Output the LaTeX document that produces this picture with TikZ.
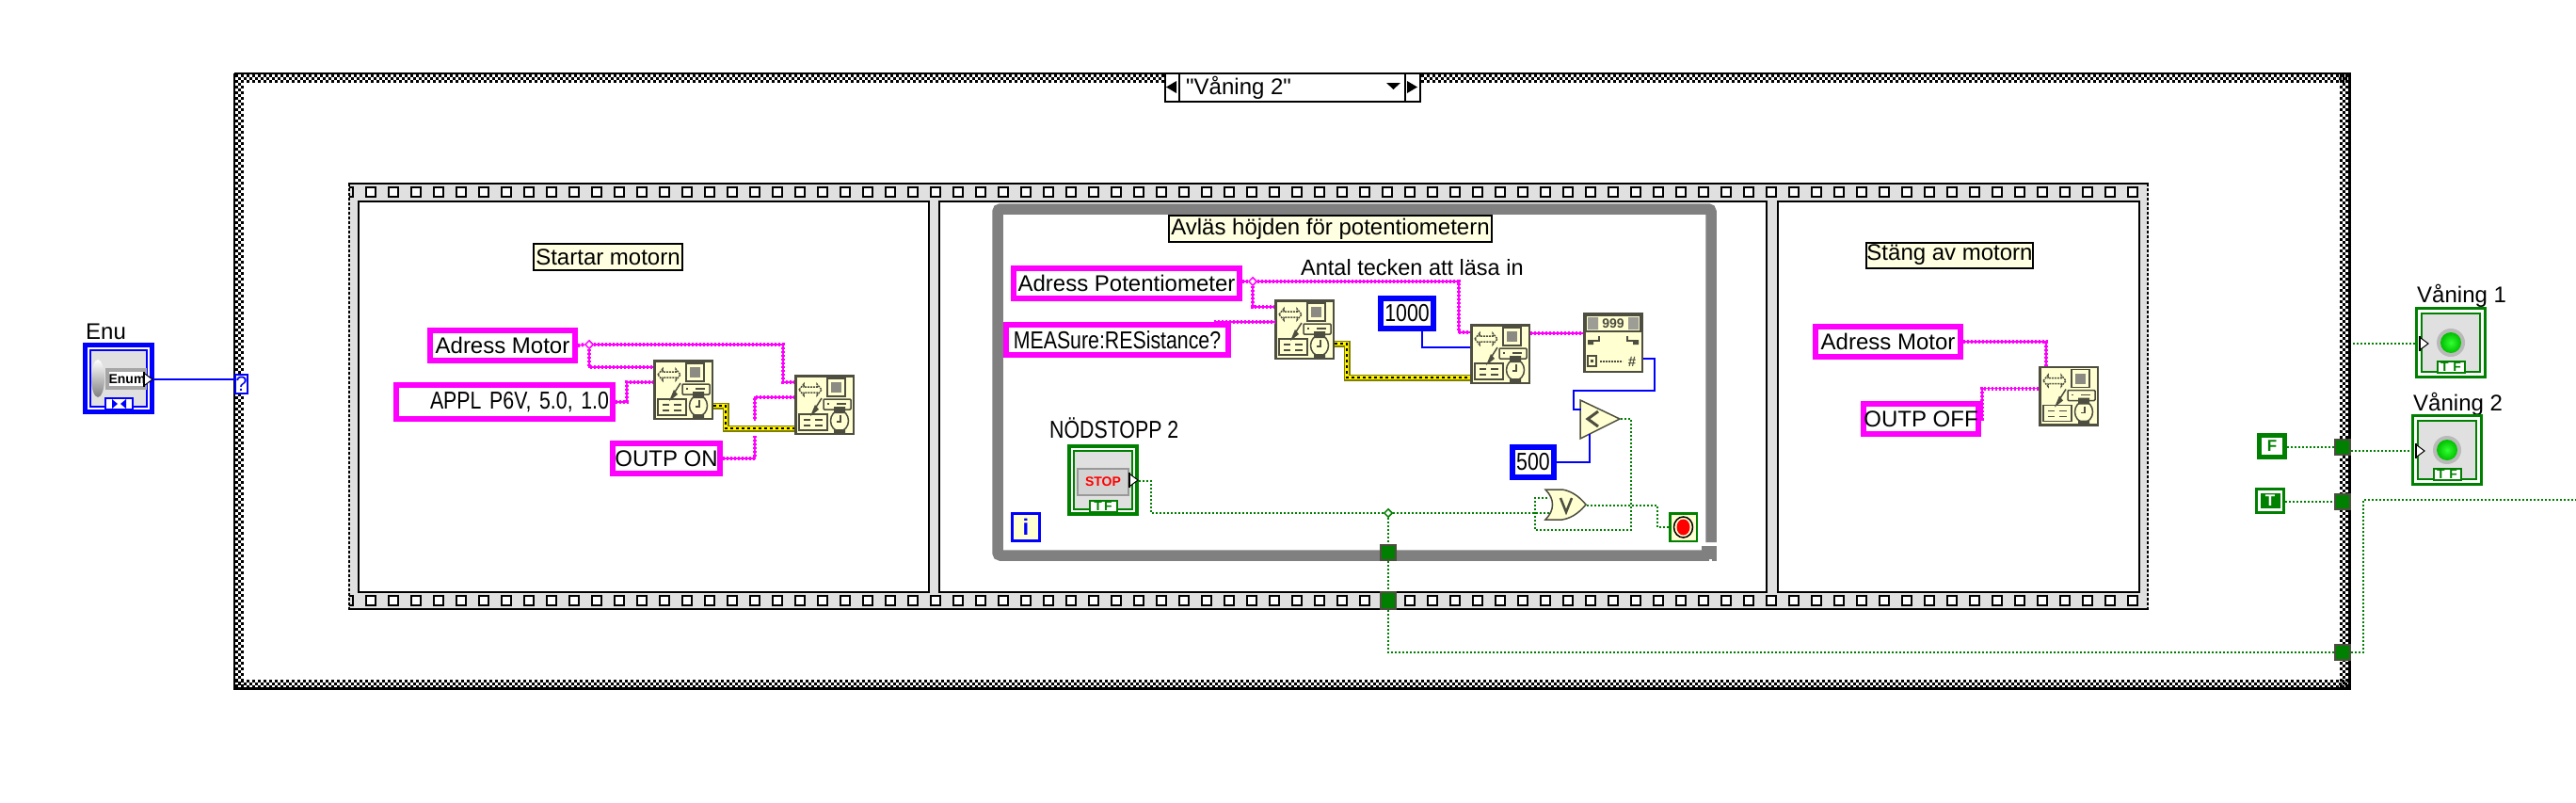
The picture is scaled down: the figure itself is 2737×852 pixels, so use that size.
\documentclass[tikz,border=0pt]{standalone}
\usepackage{fontspec}
\setmainfont{Liberation Sans}
\newfontfamily\labelfont{Liberation Sans}
\newfontfamily\capfont[FakeStretch=0.82]{Liberation Sans}
\usetikzlibrary{shapes.geometric}
\definecolor{lvpink}{HTML}{FF00FF}
\definecolor{lvblue}{HTML}{0000FF}
\definecolor{lvgreen}{HTML}{008000}
\definecolor{lvgray}{HTML}{808080}
\definecolor{lvband}{HTML}{E0E0E0}
\definecolor{lvpaper}{HTML}{FFFFD2}
\definecolor{lvnote}{HTML}{FFFFE1}
\definecolor{lvdark}{HTML}{4D4D40}
\definecolor{lvolive}{HTML}{808000}
\tikzset{
	lvlabel/.style={font=\labelfont\fontsize{24}{28}\selectfont,inner sep=0pt},
	lvcaps/.style={font=\capfont\fontsize{26}{28}\selectfont},
	strconst/.style={lvlabel,draw=lvpink,line width=6pt,fill=white},
	numconst/.style={lvlabel,lvcaps,draw=lvblue,line width=6pt,fill=white},
	noteleaf/.style={lvlabel,draw=black,line width=2pt,fill=lvnote},
	viblock/.style={draw=lvdark,line width=2.5pt,fill=lvpaper,minimum size=61.5pt,inner sep=0pt},
	tunnelbox/.style={draw=lvdark,line width=2pt,fill=lvgreen,minimum size=16pt,inner sep=0pt},
	strwire/.style={draw=lvpink,line width=4pt,dash pattern=on 2pt off 2pt,preaction={draw=lvpink,line width=1.5pt,solid}},
	errwire/.style={draw=lvolive,line width=7pt,postaction={draw=yellow,line width=4pt},postaction={draw=black,line width=2pt,dash pattern=on 3pt off 3pt}},
	numwire/.style={draw=lvblue,line width=2pt},
	boolwire/.style={draw=lvgreen,line width=2pt,dash pattern=on 2pt off 2pt},
	wirejoint/.style={diamond,draw=#1,line width=1.5pt,fill=white,minimum size=9pt,inner sep=0pt},
	tftab/.style={draw=lvgreen,line width=2pt,fill=white,minimum width=29pt,minimum height=12pt,inner sep=0pt,text=lvgreen,font=\labelfont\fontsize{14}{14}\selectfont\bfseries},
	boolframe/.style={draw=lvgreen,fill=white,minimum size=73pt,line width=3pt,inner sep=0pt},
	boolinner/.style={draw=lvgreen,line width=2pt,fill=lvband,minimum size=62pt,inner sep=0pt},
}
\newcommand{\viglyph}[1]{%
	\begin{scope}[shift={(#1.north west)},lvdark,line width=1.5pt]
		\draw[dash pattern=on 2pt off 1pt] (5,16) -- (10,10) -- (10,13) -- (24,13) -- (24,10) -- (29,16) -- (24,22) -- (24,19) -- (10,19) -- (10,22) -- cycle;
		\draw (35,4) rectangle (54,23);
		\fill[lvdark!65] (39,8) rectangle (50,19);
		\draw[rounded corners=1pt] (31,26) rectangle (60,37);
		\draw (35,31) -- (37,31) (45,31) -- (55,31);
		\draw (29,25) -- (22,36);
		\fill (22,32) -- (26,37) -- (17,44) -- cycle;
		\draw (5,42) rectangle (35,59);
		\draw (10,48) -- (17,48) (22,48) -- (30,48) (10,54) -- (17,54) (22,54) -- (30,54);
		\draw (48,49) ellipse [x radius=9.5,y radius=11];
		\fill (42,34) rectangle (54,41) (42,58) rectangle (54,63);
		\draw (49,43) -- (49,50) -- (45,50);
	\end{scope}}
\newcommand{\scanglyph}[1]{%
	\begin{scope}[shift={(#1.north west)},lvdark,line width=1.5pt]
		\draw (3,3) rectangle (61,20);
		\fill[lvdark!55] (5,5) rectangle (16,18) (48,5) rectangle (59,18);
		\node[inner sep=0pt,font=\labelfont\fontsize{14}{14}\selectfont\bfseries] (#1nines) at (32,12) {999};
		\fill (5,29) rectangle (11,34) (53,29) rectangle (59,34);
		\draw (11,30) -- (17,30) -- (17,25) (53,30) -- (47,30) -- (47,25);
		\draw (5,46) rectangle (14,57);
		\fill (8,50) rectangle (11,53);
		\draw[dash pattern=on 2pt off 1pt] (18,52) -- (42,52);
		\node[inner sep=0pt,font=\labelfont\fontsize{15}{15}\selectfont\bfseries] (#1hash) at (52,52) {\#};
	\end{scope}}
\newcommand{\boolarrow}[2]{%
	\draw[black,line width=2pt,fill=white] (#1,#2-8) -- (#1,#2+8);
	\fill[white] (#1+1,#2-6) -- (#1+9,#2) -- (#1+1,#2+6) -- cycle;
	\draw[black,line width=1pt] (#1+1,#2-6) -- (#1+9,#2) -- (#1+1,#2+6);}
\newcommand{\ledlamp}[3]{%
	\node[boolframe] (#1) at (#2,#3) {};
	\node[boolinner] (#1inner) at (#2,#3) {};
	\fill[lvgray!55] (#2,#3) circle (15);
	\shade[inner color=green!80!white,outer color=green!75!black] (#2,#3) circle (11);
	\node[tftab] (#1tf) at (#2,#3+26) {T\,\,F};
	\boolarrow{#2-33}{#3+1}}
\begin{document}
\begin{tikzpicture}[x=1pt,y=-1pt]
	\useasboundingbox (0,0) rectangle (2737,852);
	\foreach \ins/\ph in {0/0,1/3,2/0} {
		\draw[line width=3pt,dash pattern=on 3pt off 3pt,dash phase=\ph pt] (250,{80.5+3*\ins}) -- (2495,{80.5+3*\ins}) (250,{723.5+3*\ins}) -- (2495,{723.5+3*\ins});
		\draw[line width=3pt,dash pattern=on 3pt off 3pt,dash phase=\ph pt] ({251.5+3*\ins},79) -- ({251.5+3*\ins},731) ({2487.5+3*\ins},79) -- ({2487.5+3*\ins},731);
	}
	\draw[line width=2pt] (249,78) -- (2497,78) (249,78) -- (249,732);
	\draw[line width=3pt] (248,731.5) -- (2496.5,731.5) -- (2496.5,77);
	\fill[lvband] (370,194) rectangle (2283,648);
	\draw[line width=2pt] (370,195) -- (2283,195) (370,647) -- (2283,647);
	\draw[line width=2pt,dash pattern=on 3pt off 2pt] (371,195) -- (371,647) (2282,195) -- (2282,647);
	\foreach \hx in {394,418,...,2266} {
		\draw[line width=2pt,fill=white] (\hx-5,199) rectangle (\hx+5,209);
		\draw[line width=2pt,fill=white] (\hx-5,633) rectangle (\hx+5,643);
	}
	\draw[line width=2pt] (371,199) -- (375,199) -- (375,209) -- (371,209) (371,633) -- (375,633) -- (375,643) -- (371,643);
	\draw[line width=2pt,fill=white] (381,214) rectangle (987,629);
	\draw[line width=2pt,fill=white] (998,214) rectangle (1877,629);
	\draw[line width=2pt,fill=white] (1889,214) rectangle (2273,629);
	\draw[lvgray,line width=11.5pt,rounded corners=3pt] (1818,576) -- (1818,222) -- (1060,222) -- (1060,590) -- (1816,590);
	\fill[lvgray] (1808,580) rectangle (1824,596);
	\fill[white] (1816,594) rectangle (1819,596);

	\node[draw,line width=2pt,fill=white,minimum width=271pt,minimum height=30pt,inner sep=0pt] (casesel) at (1373.5,93) {};
	\draw[line width=2pt] (1253,78) -- (1253,108) (1493,78) -- (1493,108);
	\fill (1239,92.5) -- (1250,86) -- (1250,99) -- cycle (1506,92.5) -- (1495,86) -- (1495,99) -- cycle (1473,88) -- (1488,88) -- (1480.5,95) -- cycle;
	\node[lvlabel,anchor=west] (casename) at (1260,93) {"Våning 2"};

	\node[lvlabel,anchor=base west] (enulabel) at (91,360) {Enu};
	\node[draw=lvblue,line width=5pt,fill=white,minimum size=71pt,inner sep=0pt] (enu) at (126,402) {};
	\node[draw=lvblue,line width=2pt,fill=lvband,minimum size=60pt,inner sep=0pt] (enuinner) at (126,402) {};
	\shade[top color=white,bottom color=lvgray] (104,402) ellipse [x radius=7,y radius=20];
	\fill[lvgray!70] (112,391) rectangle (156,414);
	\node[fill=white,minimum width=36pt,minimum height=15pt,inner sep=0pt,font=\labelfont\fontsize{14}{14}\selectfont\bfseries] (enufield) at (135,402.5) {Enum};
	\node[draw=lvblue,line width=2pt,fill=white,minimum width=29pt,minimum height=12pt,inner sep=0pt] (enutab) at (126,429) {};
	\fill[lvblue] (125,429) -- (119,424) -- (119,434) -- cycle (128,429) -- (134,424) -- (134,434) -- cycle;
	\boolarrow{153}{403}
	\node[draw=lvblue,line width=2pt,fill=lvnote!40,minimum width=13pt,minimum height=20pt,inner sep=0pt,text=lvblue,font=\labelfont\fontsize{22}{22}\selectfont] (selq) at (256.5,408) {?};
	\draw[numwire] (enu.east |- 0,403) -- (selq.west |- 0,403);

	\node[noteleaf,minimum width=158pt,minimum height=28pt] (startnote) at (646,273) {Startar motorn};
	\node[strconst,minimum width=154pt,minimum height=32pt] (adrone) at (534,367) {Adress Motor};
	\node[strconst,lvcaps,minimum width=230pt,minimum height=36pt,text width=222pt,align=right] (appl) at (536,427) {APPL P6V, 5.0, 1.0};
	\node[strconst,minimum width=114pt,minimum height=32pt] (outpon) at (708,487) {OUTP ON};
	\node[viblock] (vione) at (726,414) {};
	\node[viblock] (vitwo) at (876,430) {};
	\viglyph{vione}
	\viglyph{vitwo}
	\node[wirejoint=lvpink] (jmotor) at (626,366) {};
	\draw[strwire] (adrone.east) -- (jmotor.west);
	\draw[strwire] (jmotor.east) -- (832,366) |- ([yshift=-8pt]vitwo.north west);
	\draw[strwire] (jmotor.south) |- ([yshift=-8pt]vione.north west);
	\draw[strwire] (appl.east) -- (666,427) |- ([yshift=-24pt]vione.north west);
	\draw[strwire] (outpon.east) -- (802,487) |- ([yshift=-24pt]vitwo.north west);
	\fill[white] (798,447) rectangle (806,463);
	\draw[errwire] ([yshift=-49pt]vione.north east) -- (771,431) |- ([yshift=-57pt]vitwo.north west);

	\node[noteleaf,minimum width=343.5pt,minimum height=28pt] (readnote) at (1413.5,243) {Avläs höjden för potentiometern};
	\node[lvlabel,font=\labelfont\fontsize{23.5}{28}\selectfont,anchor=base west] (countlabel) at (1382,292) {Antal tecken att läsa in};
	\node[strconst,minimum width=240pt,minimum height=32pt] (adrpot) at (1197,301) {Adress Potentiometer};
	\node[strconst,lvcaps,minimum width=235.5pt,minimum height=32pt] (measure) at (1187,361) {MEASure:RESistance?};
	\node[numconst,minimum width=56pt,minimum height=32pt] (numk) at (1495,333) {1000};
	\node[numconst,minimum width=44pt,minimum height=32pt] (numfive) at (1629,491) {500};
	\node[viblock] (vifour) at (1386,350) {};
	\node[viblock] (vifive) at (1594,376) {};
	\node[viblock] (scan) at (1714,364) {};
	\viglyph{vifour}
	\viglyph{vifive}
	\scanglyph{scan}
	\node[wirejoint=lvpink] (jpot) at (1331,299) {};
	\draw[strwire] (adrpot.east |- jpot) -- (jpot.west);
	\draw[strwire] (jpot.east) -- (1550,299) |- ([yshift=-9pt]vifive.north west);
	\draw[strwire] (jpot.south) |- ([yshift=-8pt]vifour.north west);
	\draw[strwire] ([xshift=-18pt]measure.north east) -- ([yshift=-24pt]vifour.north west);
	\draw[strwire] ([yshift=-10pt]vifive.north east) -- ([yshift=-22pt]scan.north west);
	\draw[errwire] ([yshift=-47pt]vifour.north east) -- (1431,365) |- ([yshift=-57pt]vifive.north west);
	\draw[numwire] ([xshift=16pt]numk.south) |- ([yshift=-25pt]vifive.north west);

	\node[lvlabel,lvcaps,anchor=base west] (stoplabel) at (1115,465) {NÖDSTOPP 2};
	\node[boolframe,line width=4pt,minimum size=72pt] (stopctrl) at (1172,510) {};
	\node[boolinner] (stopinner) at (1172,510) {};
	\node[draw=lvgray!80,line width=2pt,fill=lvband!85!gray,minimum width=54pt,minimum height=28pt,inner sep=0pt,text=red,font=\labelfont\fontsize{14}{14}\selectfont\bfseries] (stopbtn) at (1172,511.5) {STOP};
	\node[tftab] (stoptf) at (1172,538) {T\,F};
	\boolarrow{1200}{510}
	\node[draw=lvblue,line width=3pt,fill=lvpaper,minimum width=29pt,minimum height=29pt,inner sep=0pt,text=lvblue,font=\labelfont\fontsize{24}{24}\selectfont\bfseries] (iterbox) at (1090,560) {i};
	\node[draw=lvgreen,line width=2.5pt,fill=lvpaper,minimum width=28.5pt,minimum height=29.5pt,inner sep=0pt] (stopterm) at (1788.5,560) {};
	\draw[line width=1.5pt] (1788.5,560) ellipse [x radius=10,y radius=11];
	\fill[red] (1788.5,560) ellipse [x radius=7,y radius=8.5];
	\filldraw[draw=lvdark,line width=1.5pt,fill=lvpaper] (1679,425) -- (1721,445) -- (1679,466) -- cycle;
	\draw[lvdark,line width=3pt] (1698,437) -- (1687,445) -- (1698,453);
	\coordinate (lessa) at (1680,435);
	\coordinate (lessb) at (1689,461);
	\coordinate (lessout) at (1722,445);
	\filldraw[draw=lvdark,line width=1.5pt,fill=lvpaper] (1642,520) -- (1660,520) .. controls (1672,522) and (1680,530) .. (1685,536) .. controls (1680,542) and (1672,550) .. (1660,552) -- (1642,552) .. controls (1652,542) and (1652,530) .. (1642,520) -- cycle;
	\draw[lvdark,line width=2.5pt] (1658,529) -- (1664,544) -- (1670,529);
	\coordinate (orina) at (1646,529);
	\coordinate (orinb) at (1648,545);
	\coordinate (orout) at (1686,537);
	\node[wirejoint=lvgreen] (jstop) at (1475,545) {};
	\node[tunnelbox] (looptunnel) at (1475,587) {};
	\node[tunnelbox,minimum height=18pt] (seqtunnel) at (1475,638) {};
	\node[tunnelbox] (ftunnel) at (2489,475) {};
	\node[tunnelbox] (ttunnel) at (2489,533) {};
	\node[tunnelbox] (btunnel) at (2489,693) {};
	\draw[numwire] ([yshift=-49pt]scan.north east) -- ++(12,0) -- ++(0,34) -- ++(-86,0) -- ++(0,20) -- (lessa);
	\draw[numwire] (numfive.east) -| (lessb);
	\draw[boolwire] (lessout) -- (1733,445) -- (1733,563) -- (1631,563) -- (1631,529) -- (orina);
	\draw[boolwire] (stopctrl.east |- 0,511) -- (1223,511) |- (jstop.west);
	\draw[boolwire] (jstop.east) -- (orinb);
	\draw[boolwire] (orout) -- (1761,537) |- (stopterm.west);
	\draw[boolwire] (jstop.south) -- (looptunnel.north);
	\draw[boolwire] (looptunnel.south) -- (seqtunnel.north);
	\draw[boolwire] (seqtunnel.south) |- (btunnel.west);

	\node[noteleaf,minimum width=177pt,minimum height=27pt] (stopnote) at (2071.5,271) {Stäng av motorn};
	\node[strconst,minimum width=153.5pt,minimum height=31.5pt] (adrtwo) at (2006,363) {Adress Motor};
	\node[strconst,minimum width=120pt,minimum height=31.5pt] (outpoff) at (2041,445) {OUTP OFF};
	\node[viblock] (vithree) at (2198,420.5) {};
	\viglyph{vithree}
	\draw[strwire] (adrtwo.east) -| ([xshift=8pt]vithree.north west);
	\draw[strwire] (outpoff.east) -- (2106,445) |- ([yshift=-24pt]vithree.north west);

	\node[draw=lvgreen,line width=5pt,fill=white,minimum width=27pt,minimum height=23pt,inner sep=0pt,text=lvgreen,font=\labelfont\fontsize{17}{17}\selectfont\bfseries] (fconst) at (2414,474) {F};
	\node[draw=lvgreen,line width=3pt,fill=white,minimum width=29pt,minimum height=25pt,inner sep=0pt] (tconst) at (2412,532) {};
	\node[fill=lvgreen,minimum width=21pt,minimum height=16pt,inner sep=0pt,text=white,font=\labelfont\fontsize{17}{17}\selectfont\bfseries] (tconstin) at (2412,532) {T};
	\draw[boolwire] (fconst.east |- ftunnel) -- (ftunnel.west);
	\draw[boolwire] (tconst.east |- ttunnel) -- (ttunnel.west);

	\node[lvlabel,anchor=base west] (vanonelabel) at (2568,321) {Våning 1};
	\ledlamp{vanone}{2604}{364}
	\node[lvlabel,anchor=base west] (vantwolabel) at (2564,436) {Våning 2};
	\ledlamp{vantwo}{2600}{478}
	\coordinate (vanonein) at (2500,365);
	\coordinate (edgeout) at (2737,531);
	\draw[boolwire] (vanonein) -- (vanone.west |- vanonein);
	\draw[boolwire] (ftunnel.east |- 0,479) -- (vantwo.west |- 0,479);
	\draw[boolwire] (btunnel.east) -- (2511,693) |- (edgeout);
\end{tikzpicture}
\end{document}
